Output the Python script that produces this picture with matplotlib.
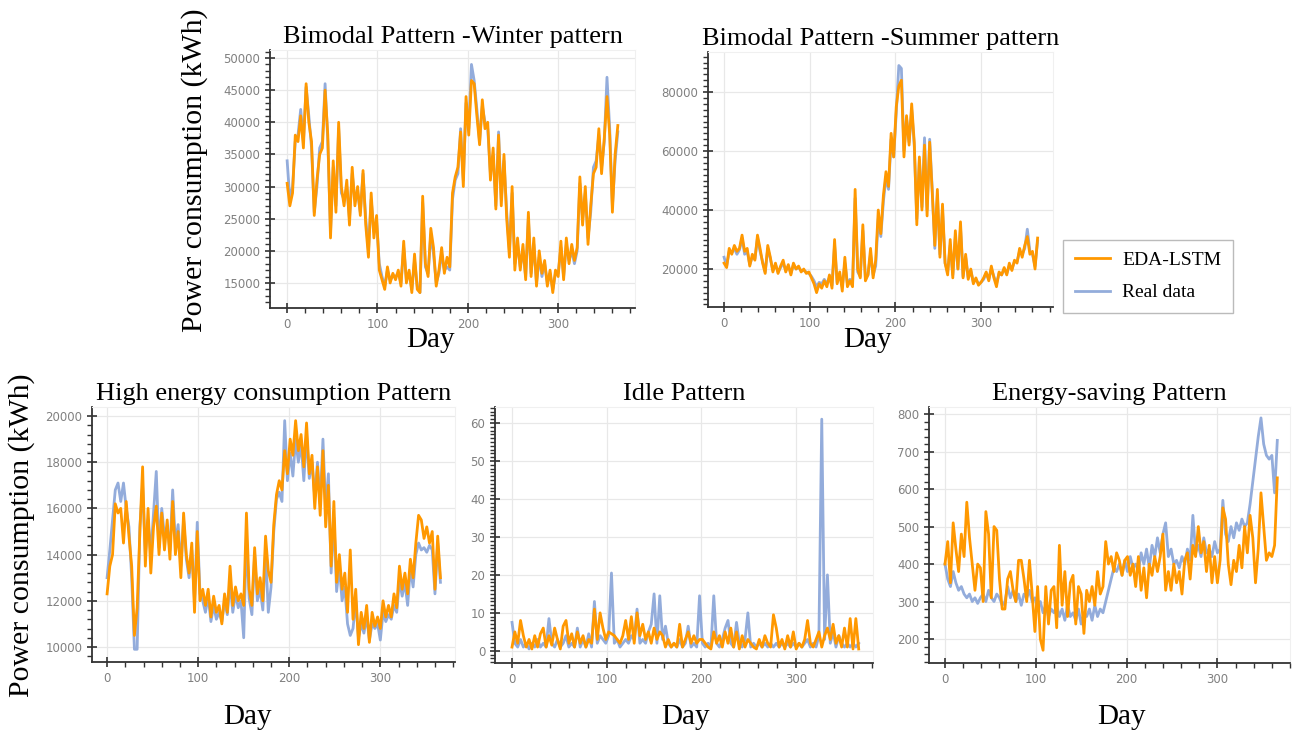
import numpy as np
import matplotlib
matplotlib.use("Agg")
import matplotlib.pyplot as plt
from matplotlib.ticker import MultipleLocator

# day index (every third day)
days = np.arange(0, 367, 3)

# Bimodal winter pattern, thousand kWh
winter_pred = [30.5, 27, 29, 38, 37, 41, 36, 46, 40, 37,
               25.5, 31, 35, 36, 45, 38, 22, 34, 26, 40,
               30, 27, 31, 24, 33, 27, 30, 25.5, 32.5, 24,
               19, 29, 22, 25.5, 17, 15.5, 14, 17.5, 15, 16.5,
               15.5, 17, 14.5, 21.5, 15, 17, 13.5, 19.5, 14, 13.5,
               28.5, 18, 16, 23.5, 20.5, 14.5, 17, 20.5, 16.5, 19,
               17.5, 29, 31.5, 33, 38.5, 30, 44, 38, 46.5, 46,
               41, 36.5, 43.5, 39, 40, 31, 36, 26.5, 38, 27,
               35, 25, 19, 30, 17, 22, 17, 21, 15.5, 26,
               16, 22, 14.5, 20, 16.5, 18.5, 14.5, 17, 13.5, 17,
               16, 21.5, 15.5, 22, 18, 21, 18.5, 20.5, 31.5, 24,
               30, 21, 27, 32, 33, 39, 32, 37.5, 44, 38,
               26, 35, 39.5]
winter_real = [34, 28, 30, 37, 38, 42, 37, 45.5, 41, 36,
               26, 30, 36, 37, 46, 37, 23, 33, 27, 39,
               29, 28, 30, 25, 32, 28, 29, 26, 32, 25,
               20, 28, 23, 24.5, 18, 16, 14.5, 17, 15.5, 16,
               16, 16.5, 15, 20.5, 15.5, 16.5, 14, 18.5, 14.5, 13.5,
               27.5, 17.5, 16.5, 22.5, 19.5, 15, 16.5, 19.5, 17, 17.5,
               17, 28, 31, 32, 39, 31, 43, 39, 49, 46.5,
               42, 37, 42.5, 40, 39, 32, 35, 27, 38.5, 28,
               34, 26, 20, 29, 18, 21, 17.5, 20, 16, 25,
               16.5, 21, 15, 19, 16, 18, 15, 16.5, 14, 16.5,
               16.5, 20.5, 16, 21, 18.5, 20, 18, 20, 30.5, 25,
               29, 22, 26, 33, 34, 38, 33, 37, 47, 39,
               27, 34, 38.5]

# Bimodal summer pattern, thousand kWh
summer_pred = [22, 20.5, 27, 25, 28, 26, 27, 31.5, 26, 27,
               21, 25, 23, 31.5, 27, 22, 18.5, 28, 24, 19,
               22, 18.5, 21, 23, 19, 21.5, 18, 22, 20, 21,
               19, 20, 18.5, 19, 17, 15, 12, 15, 13.5, 16,
               14, 18, 13.5, 30, 15, 19, 12.5, 24, 14, 16,
               14, 47, 20, 17, 35, 16, 18, 27, 17, 23,
               40, 32, 45, 53, 48, 66, 58, 75, 82, 84,
               58, 72, 62, 76, 63, 35, 58, 40, 62, 38,
               63, 46, 28, 47, 24, 42, 22, 18, 30, 17,
               33, 20, 36, 17, 25, 16.5, 20, 15, 17, 14.5,
               15.5, 17, 19, 16, 21, 17, 14, 19, 18, 20.5,
               18, 22, 19.5, 23, 22, 27, 24, 28, 31, 25,
               26, 20, 30.5]
summer_real = [24, 21, 26, 25.5, 27, 25, 26.5, 30.5, 25, 26,
               21.5, 24, 23.5, 30.5, 26, 22.5, 19, 27, 23.5, 19.5,
               21.5, 19, 20.5, 22, 19.5, 21, 18.5, 21.5, 20, 20.5,
               19.5, 19.5, 19, 18.5, 17.5, 16, 14, 15.5, 15, 16.5,
               15, 17, 14.5, 28, 15.5, 18, 14, 22, 15, 16.5,
               15, 44, 19, 17.5, 33, 17, 18, 25, 18, 21,
               37, 31, 43, 51, 47, 64, 58, 73, 89, 88,
               60, 71, 63, 74, 62, 37, 57, 41, 64.5, 40,
               64, 47, 27, 45, 25, 40, 22, 19, 28, 18,
               31, 20, 34, 17.5, 24, 17, 19.5, 15.5, 16.5, 15,
               15.5, 16.5, 18.5, 16.5, 20, 17.5, 15, 18.5, 18, 20,
               18.5, 21, 20, 22.5, 22.5, 26, 25, 27, 33.5, 26,
               25, 21, 29.5]

# High energy consumption pattern, thousand kWh
high_pred = [12.3, 13.5, 14, 16.2, 15.8, 16, 14.5, 16.3, 14.8, 13.5,
             10.5, 11.7, 15, 17.8, 13.5, 16, 13.2, 15.2, 16.1, 14,
             15.8, 14.2, 15.5, 13.8, 16.3, 14, 15, 13, 15.8, 14,
             13.2, 14.5, 11.5, 15, 12, 12.5, 11.8, 12.5, 11.3, 12.2,
             11.5, 11.8, 11, 12.3, 11.5, 13.5, 11.8, 12.6, 12, 12.3,
             11.8, 15.8, 12.5, 11.8, 14.3, 12.3, 13, 12, 14.8, 13.3,
             12.8, 15.3, 16.6, 17.2, 16.8, 18.5, 17.5, 19, 18.3, 19.8,
             18.5, 19.2, 17.8, 19.7, 17.5, 18.3, 16, 17.8, 15.7, 18.5,
             15.2, 17, 13.5, 16.3, 12.8, 14, 12.5, 13.2, 11.5, 14.2,
             11.2, 12.5, 10.1, 11.5, 10.8, 11.8, 10.2, 11.5, 10.9, 11.3,
             10.8, 12, 11.3, 11.8, 11.3, 12.3, 11.7, 13.5, 12.5, 13.2,
             12.3, 13.8, 13, 14.5, 15.7, 15.5, 14.7, 15.2, 14.5, 15,
             12.5, 14.8, 13]
high_real = [13.0, 14.2, 15.5, 16.8, 17.1, 16.3, 17.1, 16.0, 15.2, 13.0,
             9.9, 9.9, 15.2, 17.0, 14.0, 15.5, 14.0, 15.8, 17.6, 14.3,
             16.0, 14.8, 15.2, 14.2, 16.8, 14.5, 15.3, 13.5, 15.5, 13.8,
             13.0, 14.2, 12.0, 15.4, 12.3, 12.0, 11.5, 12.2, 11.1, 11.8,
             11.2, 11.5, 11.1, 12.0, 11.4, 12.8, 11.5, 12.3, 11.7, 12.0,
             10.4, 14.8, 12.1, 11.4, 14.0, 12.0, 12.5, 11.6, 14.2, 11.5,
             12.6, 15.0, 16.4, 16.7, 16.3, 19.8, 17.2, 18.4, 17.4, 19.0,
             18.0, 18.8, 17.2, 19.2, 17.3, 18.0, 16.5, 18.0, 16.2, 19.0,
             16.0, 17.5, 13.2, 15.6, 12.4, 13.5, 12.0, 12.6, 11.0, 10.5,
             10.8, 12.0, 10.4, 11.0, 10.6, 11.3, 10.3, 11.0, 10.8, 11.0,
             10.3, 11.5, 11.1, 11.4, 11.2, 11.8, 11.5, 12.9, 12.2, 12.8,
             11.8, 13.4, 12.6, 14.0, 14.5, 14.2, 14.3, 14.1, 14.4, 14.2,
             12.3, 14.5, 12.8]

# Idle pattern, kWh
idle_pred = [1, 5, 2, 8, 4, 1, 3, 0.5, 4, 1,
             4.5, 6, 1, 4, 1.5, 6, 3, 0.5, 6.5, 8,
             2, 4.5, 1, 5, 2, 4, 1, 3, 2, 11,
             3, 10, 6, 3, 5, 4.5, 4, 3, 2, 4,
             8, 3, 9, 2, 10, 4, 7, 3, 5, 2,
             6, 3, 5, 4, 1, 3, 1, 2, 1, 7,
             1, 3, 5, 2, 4, 2, 3, 3, 2, 1,
             0.5, 5, 2, 4, 1, 5, 2, 6, 1, 5,
             0.5, 4, 1, 3, 2, 1, 0.5, 3, 1, 4,
             2, 1, 9.5, 6, 1, 3, 0.5, 4, 1, 5,
             0.5, 2, 1, 3, 8, 2, 1, 3, 5, 1,
             4, 6, 3, 7, 2, 4, 1, 6, 1, 8.5,
             0.5, 8.5, 0.5]
idle_real = [7.5, 2, 1, 3, 1, 2, 0.5, 2, 1, 3,
             1, 2, 1, 8.5, 2, 1, 3, 1, 2, 4,
             1, 2, 1, 6, 1, 3, 1, 4.5, 1, 13,
             2, 4, 3, 2, 4, 20.5, 2, 3, 1, 2,
             3, 2, 4, 3, 11, 2, 3, 2, 5, 7,
             15, 2, 14.5, 3, 6.5, 2, 1, 2, 1, 3,
             1, 2, 6.5, 1, 2, 1, 14.5, 2, 1, 2,
             1, 14.5, 2, 1, 3, 6, 8, 2, 1, 7.5,
             2, 1, 3, 10, 1, 2, 1, 2, 1, 2,
             1, 2, 1, 2, 1, 2, 1, 2, 1, 2,
             1, 2, 1, 2, 3, 1, 2, 1, 4, 61,
             3, 20, 2, 5, 1, 4, 2, 1, 2, 1,
             2, 1, 2]

# Energy-saving pattern, kWh
saving_pred = [400, 460, 350, 510, 440, 380, 480, 420, 565, 470,
               400, 330, 400, 390, 300, 540, 480, 310, 500, 490,
               360, 280, 280, 360, 380, 330, 300, 410, 410, 360,
               300, 410, 320, 220, 340, 200, 170, 340, 240, 330,
               340, 230, 450, 290, 380, 260, 350, 370, 240, 340,
               320, 215, 330, 300, 340, 290, 380, 320, 340, 460,
               400, 420, 380, 430, 410, 370, 410, 420, 370, 400,
               340, 420, 330, 390, 310, 400, 370, 420, 380, 420,
               480, 330, 380, 330, 400, 350, 380, 320, 410, 430,
               360, 450, 420, 500, 430, 460, 380, 450, 350, 420,
               350, 410, 550, 520, 400, 345, 410, 380, 450, 390,
               500, 430, 530, 470, 350, 440, 590, 500, 410, 430,
               420, 450, 630]
saving_real = [400, 360, 340, 380, 350, 330, 340, 320, 310, 320,
               300, 310, 295, 310, 320, 300, 330, 310, 300, 320,
               310, 290, 300, 340, 310, 330, 300, 320, 290, 320,
               310, 330, 300, 310, 280, 300, 270, 290, 260, 280,
               270, 290, 260, 280, 250, 290, 260, 270, 250, 280,
               240, 270, 260, 280, 250, 290, 260, 280, 270, 300,
               330, 360, 390, 380, 400, 370, 410, 380, 420, 390,
               400, 380, 430, 400, 440, 390, 450, 420, 470, 430,
               480, 510, 420, 440, 400, 410, 390, 420, 400, 440,
               410, 530, 430, 450, 420, 470, 430, 440, 420, 460,
               430, 440, 570, 480, 460, 500, 470, 510, 490, 520,
               500, 510, 560, 620, 680, 740, 790, 720, 690, 680,
               690, 590, 730]

ORANGE = '#ff9800'
BLUE = '#93acdb'
SERIF = 'Liberation Serif'

fig = plt.figure(figsize=(12.93, 7.31), dpi=100)


def panel(rect, title, real, pred, xlim, ylim, ymajor, yminor, scale=1):
    ax = fig.add_axes(rect)
    l_real, = ax.plot(days, np.array(real) * scale, color=BLUE, lw=2.0)
    l_pred, = ax.plot(days, np.array(pred) * scale, color=ORANGE, lw=2.0)
    ax.set_xlim(*xlim)
    ax.set_ylim(*ylim)
    ax.xaxis.set_major_locator(MultipleLocator(100))
    ax.xaxis.set_minor_locator(MultipleLocator(20))
    ax.yaxis.set_major_locator(MultipleLocator(ymajor))
    ax.yaxis.set_minor_locator(MultipleLocator(yminor))
    ax.grid(True, which='major', color='#e8e8e8', lw=0.9)
    ax.set_axisbelow(True)
    for s in ['top', 'right']:
        ax.spines[s].set_color('#f0f0f0')
    for s in ['left', 'bottom']:
        ax.spines[s].set_color('#333333')
        ax.spines[s].set_linewidth(1.3)
    ax.tick_params(which='major', direction='inout', length=7, width=1.2,
                   color='#333333', labelsize=8.5, labelcolor='#808080')
    ax.tick_params(which='minor', direction='out', length=3.5, width=1,
                   color='#333333')
    ax.set_title(title, fontfamily=SERIF, fontsize=19, pad=5)
    return l_pred, l_real


panel([0.2088, 0.5787, 0.2823, 0.3529], 'Bimodal Pattern -Winter pattern',
      winter_real, winter_pred, (-19, 385), (11110, 51245), 5000, 1000, 1000)
l_pred, l_real = panel([0.5476, 0.580, 0.2668, 0.3488], 'Bimodal Pattern -Summer pattern',
                       summer_real, summer_pred, (-18.7, 384), (7120, 93560), 20000, 2000, 1000)
panel([0.0712, 0.0944, 0.2807, 0.3488], 'High energy consumption Pattern',
      high_real, high_pred, (-16.5, 382), (9350, 20390), 2000, 400, 1000)
panel([0.3828, 0.0930, 0.2923, 0.3502], 'Idle Pattern',
      idle_real, idle_pred, (-18, 381), (-3.2, 64.2), 10, 1)
panel([0.7185, 0.0930, 0.2792, 0.3502], 'Energy-saving Pattern',
      saving_real, saving_pred, (-17.6, 380), (136, 819), 100, 20)

fig.legend([l_pred, l_real], ['EDA-LSTM', 'Real data'], loc='upper left',
           bbox_to_anchor=(0.8221, 0.6717), prop={'family': SERIF, 'size': 14},
           fancybox=False, edgecolor='#bbbbbb', framealpha=1, borderpad=0.6,
           labelspacing=0.75, handlelength=1.8, handletextpad=0.65,
           borderaxespad=0)

fig.text(0.1508, 0.7674, 'Power consumption (kWh)', rotation=90, ha='center',
         va='center', fontfamily=SERIF, fontsize=21.5)
fig.text(0.017, 0.268, 'Power consumption (kWh)', rotation=90, ha='center',
         va='center', fontfamily=SERIF, fontsize=21.5)

for x, y in [(0.3326, 0.5349), (0.6713, 0.5349), (0.1918, 0.0192),
             (0.5305, 0.0192), (0.8677, 0.0192)]:
    fig.text(x, y, 'Day', ha='center', va='center', fontfamily=SERIF, fontsize=21)

fig.savefig('out.png', dpi=100)
